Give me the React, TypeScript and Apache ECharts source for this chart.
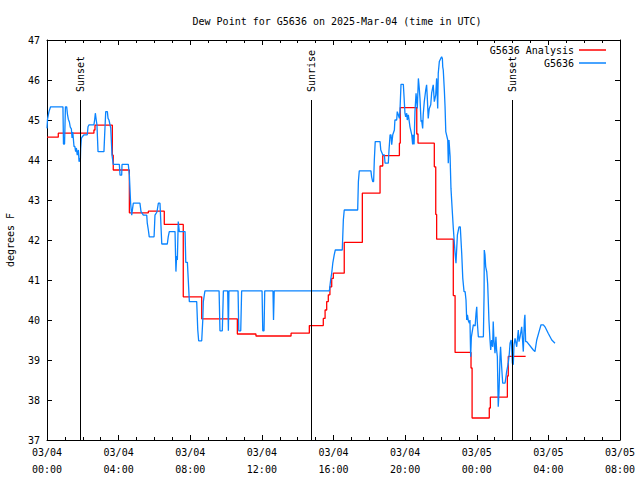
import React, { useEffect, useRef } from "react";
import * as echarts from "echarts";

// ---- Data (hours since 03/04 00:00 UTC, degrees F) ----
const TITLE = "Dew Point for G5636 on 2025-Mar-04 (time in UTC)";
const Y_NAME = "degrees F";
const SERIES_NAMES = ["G5636 Analysis", "G5636"];
const X_MIN = 0;
const X_MAX = 32;
const X_STEP = 4;
const Y_MIN = 37;
const Y_MAX = 47;
const Y_STEP = 1;

const analysisTimes = [
  0.0, 0.63, 2.62, 2.68, 3.65, 3.7, 4.6, 5.66, 6.55, 7.61, 8.64, 10.63, 11.67, 13.63, 14.65,
  15.43, 15.53, 15.62, 15.71, 15.8, 15.9, 15.99, 16.6, 17.61, 18.6, 18.75, 19.68, 19.73,
  20.65, 20.72, 21.63, 21.71, 21.76, 22.69, 22.79, 23.68, 23.74, 24.7, 24.76, 25.71, 25.76, 26.73,
];
const analysisValues = [
  44.57, 44.67, 44.75, 44.87, 44.12, 43.75, 42.68, 42.72, 42.39, 40.58, 40.03, 39.65, 39.6, 39.67, 39.86,
  40.04, 40.25, 40.46, 40.63, 40.83, 41.04, 41.17, 41.94, 43.17, 43.85, 44.11, 44.42, 45.31,
  44.65, 44.42, 43.83, 42.64, 42.02, 40.61, 39.19, 38.8, 37.55, 37.8, 38.07, 38.6, 39.09, 39.09,
];

const obsTimes = [
  0.0, 0.03, 0.11, 0.2, 0.89, 0.92, 0.98, 1.03, 1.1, 1.14, 1.19, 1.25, 1.3, 1.36, 1.4, 1.44, 1.47,
  1.51, 1.55, 1.6, 1.64, 1.69, 1.75, 1.79, 1.83, 1.86, 1.88, 1.92, 1.97, 2.07, 2.25, 2.29, 2.35,
  2.62, 2.66, 2.7, 2.75, 2.79, 2.85, 3.18, 3.22, 3.28, 3.37, 3.41, 3.46, 3.52, 3.56, 3.63, 3.7,
  4.04, 4.08, 4.17, 4.19, 4.54, 4.6, 4.67, 4.73, 4.82, 5.19, 5.25, 5.38, 5.57, 5.6, 5.66, 5.71,
  5.98, 6.03, 6.14, 6.22, 6.31, 6.41, 6.72, 6.77, 6.83, 7.15, 7.2, 7.24, 7.28, 7.33, 7.39, 7.71,
  7.75, 7.84, 7.89, 7.95, 8.36, 8.42, 8.47, 8.64, 8.7, 8.73, 8.82, 9.61, 9.66, 9.79, 9.85, 10.09,
  10.13, 10.16, 10.67, 10.71, 10.82, 10.87, 12.01, 12.05, 12.12, 12.16, 12.62, 12.65, 12.69,
  15.77, 15.84, 15.9, 15.96, 16.04, 16.1, 16.49, 16.55, 16.6, 17.35, 17.39, 17.44, 18.09, 18.13,
  18.19, 18.24, 18.28, 18.33, 18.6, 18.64, 18.75, 18.84, 18.88, 19.06, 19.1, 19.16, 19.21, 19.25,
  19.31, 19.4, 19.43, 19.53, 19.56, 19.62, 19.68, 19.71, 19.77, 19.9, 19.94, 19.99, 20.03, 20.09,
  20.12, 20.18, 20.27, 20.37, 20.42, 20.45, 20.5, 20.55, 20.61, 20.68, 20.74, 20.79, 20.83, 20.89,
  20.92, 20.98, 21.01, 21.07, 21.15, 21.2, 21.24, 21.29, 21.35, 21.43, 21.48, 21.57, 21.63, 21.71,
  21.76, 21.82, 21.85, 21.91, 21.99, 22.04, 22.08, 22.1, 22.13, 22.19, 22.23, 22.27, 22.38, 22.41,
  22.45, 22.51, 22.56, 22.63, 22.69, 22.79, 22.84, 22.92, 23.01, 23.08, 23.16, 23.22, 23.29, 23.35,
  23.4, 23.44, 23.48, 23.53, 23.59, 23.62, 23.66, 23.7, 23.81, 23.91, 23.96, 24.0, 24.03, 24.09,
  24.37, 24.41, 24.42, 24.46, 24.5, 24.56, 24.61, 24.65, 24.68, 24.74, 24.78, 24.83, 24.89, 24.92,
  24.96, 25.02, 25.07, 25.11, 25.15, 25.2, 25.24, 25.3, 25.33, 25.39, 25.45, 25.58, 25.62, 25.67,
  25.76, 25.82, 25.86, 25.92, 25.95, 25.99, 26.04, 26.08, 26.14, 26.23, 26.32, 26.36, 26.42, 26.51,
  26.6, 26.66, 26.69, 26.73, 26.79, 27.16, 27.25, 27.35, 27.48, 27.59, 27.72, 27.81, 27.99, 28.19,
  28.37,
];
const obsValues = [
  44.79, 45.02, 45.21, 45.33, 45.33, 44.4, 44.4, 45.33, 45.33, 45.15, 45.02, 44.95, 44.82, 44.78, 44.55, 44.7, 44.54,
  44.33, 44.35, 44.21, 44.3, 44.12, 44.25, 43.96, 44.05, 43.95, 44.29, 44.54, 44.58, 44.63, 44.63, 44.83, 44.88,
  44.88, 45.0, 45.17, 45.0, 44.88, 44.21, 44.21, 44.63, 45.21, 45.21, 45.04, 45.0, 44.88, 44.8, 44.13, 43.89,
  43.89, 43.62, 43.62, 43.89, 43.89, 43.62, 42.92, 42.62, 42.92, 42.92, 42.71, 42.62, 42.62, 42.42, 42.25, 42.08,
  42.08, 42.62, 42.7, 42.92, 42.92, 41.9, 41.9, 42.08, 42.21, 42.21, 41.21, 41.6, 41.5, 42.46, 42.21, 42.21,
  41.44, 41.44, 41.0, 40.46, 40.46, 39.75, 39.48, 39.48, 40.0, 40.46, 40.73, 40.73, 39.73, 39.73, 40.73, 40.73,
  39.73, 40.73, 40.73, 39.73, 39.73, 40.73, 40.73, 39.73, 39.73, 40.73, 40.73, 40.0, 40.73,
  40.73, 41.0, 41.17, 41.42, 41.63, 41.75, 41.75, 42.5, 42.75, 42.75, 43.46, 43.73, 43.73, 43.58,
  43.46, 43.46, 44.0, 44.46, 44.46, 44.25, 44.13, 44.13, 43.92, 43.92, 44.25, 44.63, 44.63, 44.38,
  44.63, 44.75, 45.0, 45.0, 45.21, 45.13, 45.04, 45.21, 45.89, 45.89, 45.58, 45.17, 45.08, 45.17,
  45.0, 45.13, 44.83, 44.63, 44.39, 44.63, 44.39, 45.21, 45.67, 45.29, 46.04, 45.79, 45.54, 44.96,
  45.0, 44.79, 45.13, 45.46, 45.75, 45.88, 45.54, 45.04, 45.29, 45.38, 45.67, 45.88, 45.46, 45.63,
  46.04, 45.29, 46.17, 46.46, 46.54, 46.58, 46.54, 46.33, 46.25, 45.75, 45.33, 44.71, 44.5, 43.92,
  44.5, 44.1, 43.29, 42.75, 42.3, 41.67, 41.42, 42.13, 42.33, 42.33, 41.67, 41.04, 40.71, 40.71,
  40.5, 40.0, 40.13, 39.98, 39.92, 40.0, 39.08, 39.58, 39.88, 39.85, 40.17, 40.33, 39.95, 39.58,
  39.58, 40.67, 41.75, 41.63, 41.33, 41.2, 40.9, 40.4, 40.0, 39.5, 39.25, 39.5, 39.33, 39.96,
  39.5, 39.17, 39.58, 39.25, 39.08, 37.83, 38.17, 39.08, 39.33, 38.83, 38.42, 38.42, 38.54, 38.71,
  38.92, 39.17, 39.42, 39.5, 39.33, 38.92, 38.88, 39.38, 39.54, 39.33, 39.75, 39.46, 39.58, 39.83,
  39.21, 40.0, 40.13, 39.46, 39.46, 39.25, 39.21, 39.5, 39.71, 39.88, 39.88, 39.83, 39.67, 39.5,
  39.42,
];

const sunEventTimes = [1.84, 14.74, 25.97];
const sunEventLabels = ["Sunset", "Sunrise", "Sunset"];
const SUN_LINE_TOP = 45.5;
const SUN_LABEL_BASE = 45.7;

const FONT = '"DejaVu Sans Mono", "Liberation Mono", monospace';
const RED = "#ff0000";
const BLUE = "#0a84ff";

function pad(n: number) {
  return n < 10 ? "0" + n : String(n);
}

export default function App() {
  const ref = useRef<HTMLDivElement>(null);

  useEffect(() => {
    if (!ref.current) return;
    const chart = echarts.init(ref.current, undefined, { renderer: "svg" });

    const analysis = analysisTimes.map((t, i) => [t, analysisValues[i]]);
    const obs = obsTimes.map((t, i) => [t, obsValues[i]]);
    const sunData = sunEventTimes.map((t, i) => ({ value: [t, SUN_LINE_TOP], name: sunEventLabels[i] }));

    const xFmt = (v: number) => {
      const day = 4 + Math.floor(v / 24);
      const h = Math.round(v % 24);
      return `03/${pad(day)}\n${pad(h)}:00`;
    };

    const baseX = {
      type: "value" as const,
      min: X_MIN,
      max: X_MAX,
      interval: X_STEP,
      splitLine: { show: false },
      axisLine: { show: true, onZero: false, lineStyle: { color: "#000", width: 1 } },
      axisTick: { show: true, inside: true, length: 5, lineStyle: { color: "#000" } },
      minorTick: { show: true, splitNumber: 4, length: 3, lineStyle: { color: "#000" } },
    };
    const baseY = {
      type: "value" as const,
      min: Y_MIN,
      max: Y_MAX,
      interval: Y_STEP,
      splitLine: { show: false },
      axisLine: { show: true, onZero: false, lineStyle: { color: "#000", width: 1 } },
      axisTick: { show: true, inside: true, length: 5, lineStyle: { color: "#000" } },
    };

    chart.setOption({
      animation: false,
      backgroundColor: "#fff",
      textStyle: { fontFamily: FONT },
      title: {
        text: TITLE,
        left: 332,
        top: 11,
        textAlign: "center",
        textStyle: { fontFamily: FONT, fontSize: 10, fontWeight: "normal", color: "#000" },
      },
      legend: {
        data: SERIES_NAMES,
        orient: "vertical",
        align: "right",
        right: 29,
        top: 39,
        itemWidth: 27,
        itemHeight: 1.5,
        itemGap: 1,
        icon: "rect",
        textStyle: { fontFamily: FONT, fontSize: 10, color: "#000", lineHeight: 12 },
      },
      grid: { left: 47, right: 20, top: 40, bottom: 40, containLabel: false, outerBoundsMode: "none" },
      xAxis: [
        {
          ...baseX,
          position: "bottom",
          axisLabel: {
            formatter: xFmt,
            fontFamily: FONT,
            fontSize: 10,
            color: "#000",
            lineHeight: 17,
            margin: 4,
            showMaxLabel: true,
            showMinLabel: true,
          },
        },
        { ...baseX, position: "top", axisLabel: { show: false } },
      ],
      yAxis: [
        {
          ...baseY,
          position: "left",
          name: Y_NAME,
          nameLocation: "middle",
          nameGap: 32,
          nameRotate: 90,
          nameTextStyle: { fontFamily: FONT, fontSize: 10, color: "#000" },
          axisLabel: { fontFamily: FONT, fontSize: 10, color: "#000", margin: 7 },
        },
        { ...baseY, position: "right", axisLabel: { show: false } },
      ],
      series: [
        {
          name: SERIES_NAMES[0],
          type: "line",
          step: "end",
          data: analysis,
          showSymbol: false,
          symbol: "none",
          color: RED,
          itemStyle: { color: RED },
          lineStyle: { color: RED, width: 1.3 },
          xAxisIndex: 0,
          yAxisIndex: 0,
          z: 2,
        },
        {
          name: SERIES_NAMES[1],
          type: "line",
          data: obs,
          showSymbol: false,
          symbol: "none",
          color: BLUE,
          itemStyle: { color: BLUE },
          lineStyle: { color: BLUE, width: 1.3 },
          xAxisIndex: 0,
          yAxisIndex: 0,
          z: 3,
        },
        {
          name: "sun",
          type: "custom",
          xAxisIndex: 0,
          yAxisIndex: 0,
          data: sunData,
          z: 4,
          renderItem: (params: any, api: any) => {
            const t = api.value(0);
            const top = api.coord([t, api.value(1)]);
            const bottom = api.coord([t, Y_MIN]);
            const lab = api.coord([t, SUN_LABEL_BASE]);
            const x = Math.round(top[0]) + 0.5;
            return {
              type: "group",
              children: [
                {
                  type: "line",
                  shape: { x1: x, y1: top[1], x2: x, y2: bottom[1] },
                  style: { stroke: "#000", lineWidth: 1 },
                },
                {
                  type: "text",
                  x: x,
                  y: lab[1],
                  rotation: Math.PI / 2,
                  style: {
                    text: sunEventLabels[params.dataIndex],
                    fill: "#000",
                    font: `10px ${FONT}`,
                    align: "left",
                    verticalAlign: "middle",
                  },
                },
              ],
            };
          },
        },
      ],
    });

    return () => chart.dispose();
  }, []);

  return <div ref={ref} style={{ width: 640, height: 480, position: "absolute", left: 0, top: 0 }} />;
}
